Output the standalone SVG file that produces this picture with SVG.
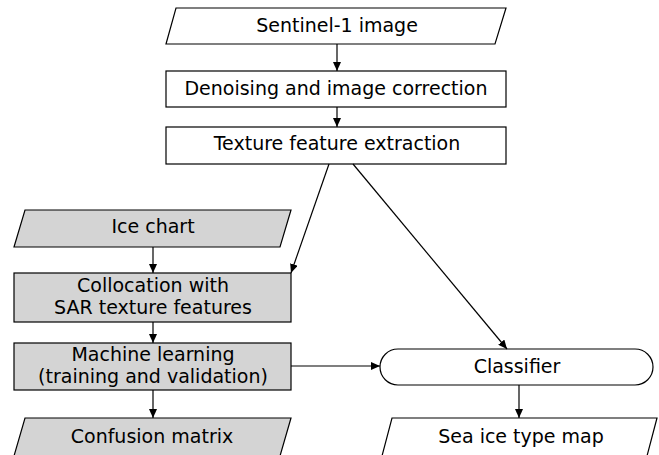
<svg xmlns="http://www.w3.org/2000/svg" width="659" height="455" viewBox="0 0 659 455">
<style>
.s{stroke:#000;stroke-width:1.2;}
.w{fill:#fff;}
.g{fill:#d4d4d4;}
.t{font-family:"DejaVu Sans",Verdana,sans-serif;font-size:19px;fill:#000;text-anchor:middle;}
.c{fill:none;stroke:#000;stroke-width:1.2;marker-end:url(#ah);}
</style>
<defs>
<marker id="ah" markerUnits="userSpaceOnUse" markerWidth="10" markerHeight="8" refX="9" refY="4" orient="auto">
<path d="M0,0 L9,4 L0,8 z" fill="#000"/>
</marker>
</defs>
<rect width="659" height="455" fill="#fff"/>
<g id="sentinel">
<polygon class="s w" points="176,8 506,8 495,44 166,44"/>
<text class="t" x="337" y="32">Sentinel-1 image</text>
</g>
<g id="denoising">
<rect class="s w" x="166" y="71" width="340" height="36"/>
<text class="t" x="336" y="95">Denoising and image correction</text>
</g>
<g id="texture">
<rect class="s w" x="166" y="127" width="340" height="37"/>
<text class="t" x="337" y="150">Texture feature extraction</text>
</g>
<g id="icechart">
<polygon class="s g" points="25,210 291,210 280,247 14,247"/>
<text class="t" x="153" y="233">Ice chart</text>
</g>
<g id="collocation">
<rect class="s g" x="14" y="273" width="277" height="49"/>
<text class="t" x="153" y="292">Collocation with</text>
<text class="t" x="153" y="314">SAR texture features</text>
</g>
<g id="ml">
<rect class="s g" x="14" y="343" width="277" height="47"/>
<text class="t" x="153" y="361">Machine learning</text>
<text class="t" x="153" y="383">(training and validation)</text>
</g>
<g id="confusion">
<polygon class="s g" points="25,418 291,418 280,456 14,456"/>
<text class="t" x="152" y="443">Confusion matrix</text>
</g>
<g id="classifier">
<rect class="s w" x="380" y="349" width="273" height="36" rx="18" ry="18"/>
<text class="t" x="517" y="373">Classifier</text>
</g>
<g id="seaice">
<polygon class="s w" points="392,418 657,418 647,456 382,456"/>
<text class="t" x="521" y="443">Sea ice type map</text>
</g>
<g id="connectors">
<line class="c" x1="337" y1="44" x2="337" y2="71"/>
<line class="c" x1="337" y1="107" x2="337" y2="127"/>
<line class="c" x1="329" y1="164" x2="291" y2="273"/>
<line class="c" x1="353" y1="164" x2="507" y2="349"/>
<line class="c" x1="153" y1="247" x2="153" y2="273"/>
<line class="c" x1="153" y1="322" x2="153" y2="343"/>
<line class="c" x1="153" y1="390" x2="153" y2="418"/>
<line class="c" x1="291" y1="366" x2="380" y2="366"/>
<line class="c" x1="519" y1="385" x2="519" y2="418"/>
</g>
</svg>
